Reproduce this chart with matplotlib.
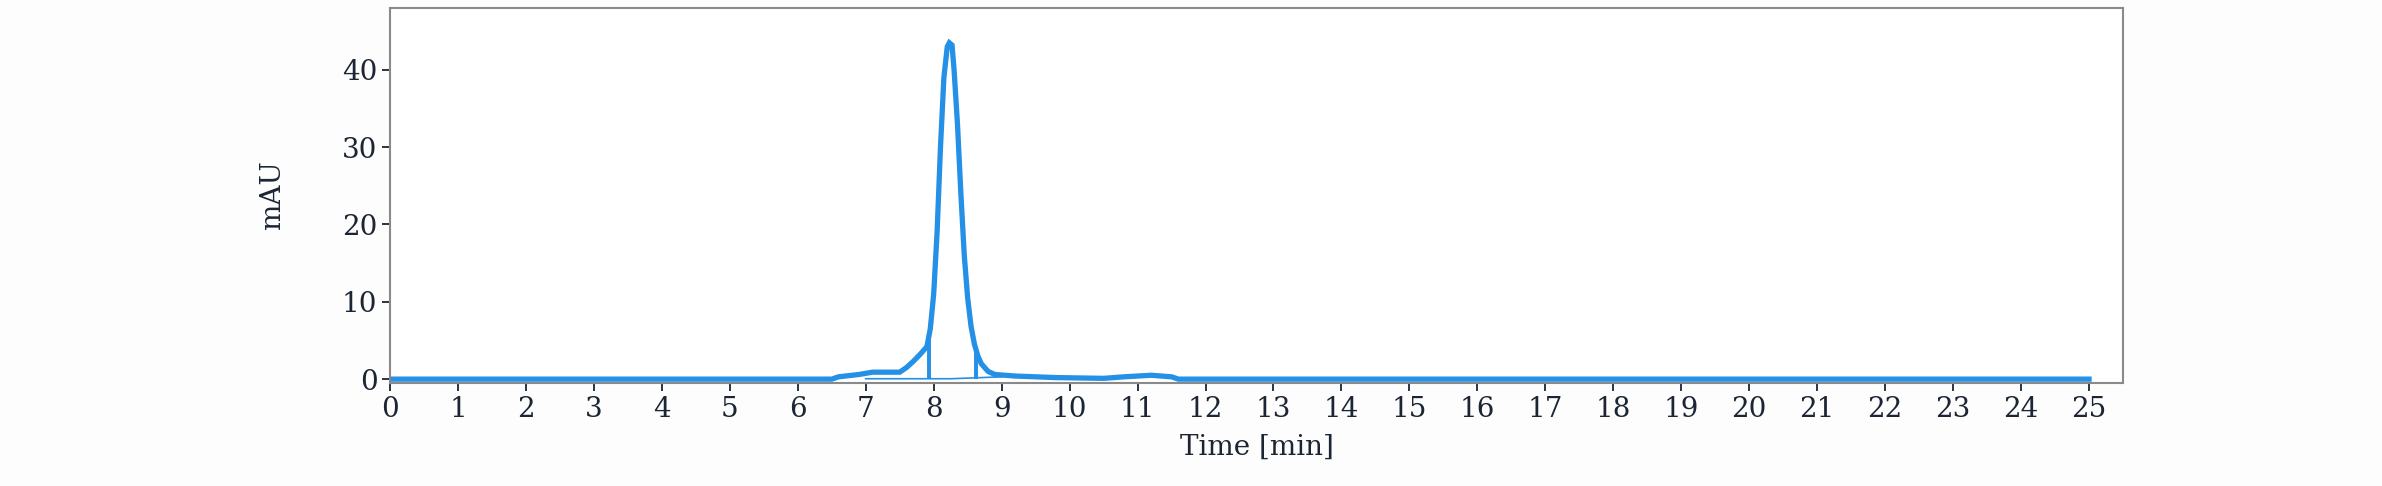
import matplotlib
matplotlib.use("Agg")
import matplotlib.pyplot as plt

time_min = [0, 6.5, 6.6, 6.9, 7.1, 7.5, 7.6, 7.7, 7.8, 7.9, 7.95, 8.0, 8.05, 8.1, 8.15, 8.2, 8.23, 8.27, 8.3,
            8.35, 8.4, 8.45, 8.5, 8.55, 8.6, 8.65, 8.7, 8.8, 8.9, 9.2, 9.8, 10.5, 10.8, 11.2, 11.5, 11.6, 25]
mau = [0, 0, 0.3, 0.6, 0.9, 0.9, 1.5, 2.3, 3.2, 4.2, 6.5, 11, 19, 30, 39, 43, 43.5, 43.2, 40,
       33, 24, 16, 10.5, 6.8, 4.5, 3.0, 2.0, 1.0, 0.6, 0.4, 0.2, 0.1, 0.3, 0.5, 0.3, 0, 0]
drop_times = [7.93, 8.62]
drop_heights = [5.0, 3.8]
baseline_x = [7.0, 8.25, 9.0]
baseline_y = [0.05, 0.05, 0.3]

color = "#2490E6"
fig = plt.figure(figsize=(23.82, 4.86), dpi=100)
fig.patch.set_facecolor("#FDFDFD")
ax = fig.add_axes([390/2382, 1-383/486, (2123-390)/2382, (383-8)/486])
ax.plot(time_min, mau, color=color, lw=3.8, solid_joinstyle="miter")
ax.plot(baseline_x, baseline_y, color=color, lw=1.2)
ax.vlines(drop_times, 0, drop_heights, color=color, lw=2.8)
ax.set_xlim(0, 25.5)
ax.set_ylim(-0.5, 48)
ax.set_xticks(range(0, 26))
ax.set_yticks([0, 10, 20, 30, 40])
for s in ax.spines.values():
    s.set_color("#8a8a8a")
    s.set_linewidth(1.5)
ax.tick_params(labelsize=20, colors="#1b2533", length=6, width=1.3, pad=3)
for lab in ax.get_xticklabels() + ax.get_yticklabels():
    lab.set_family("DejaVu Serif")
ax.set_xlabel("Time [min]", fontsize=20, family="DejaVu Serif", color="#1b2533", labelpad=8)
ax.set_ylabel("mAU", fontsize=20, family="DejaVu Serif", color="#1b2533", labelpad=40)
fig.savefig("out.png", dpi=100, facecolor=fig.get_facecolor())
